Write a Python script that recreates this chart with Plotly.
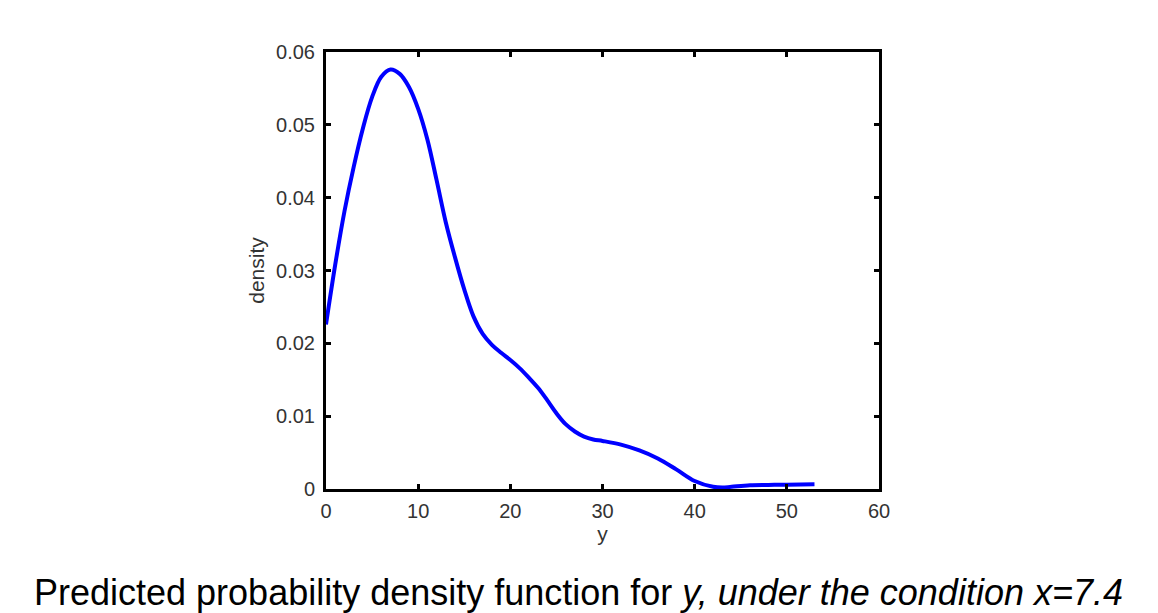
import plotly.graph_objects as go

y_vals = [0, 1, 2, 3, 4, 5, 6, 7, 8, 9, 10, 11, 12, 13, 14, 15, 16, 17, 18, 19, 20,
          21, 22, 23, 24, 25, 26, 27, 28, 29, 30, 32, 34, 36, 38, 40, 42, 43, 44,
          46, 48, 50, 53]
density = [0.0226, 0.0308, 0.0381, 0.0442, 0.0495, 0.0538, 0.0566, 0.0576, 0.0570,
           0.0552, 0.0522, 0.0480, 0.0424, 0.0366, 0.0318, 0.0274, 0.0237, 0.0213,
           0.0198, 0.0187, 0.0177, 0.0166, 0.0153, 0.0139, 0.0122, 0.0104, 0.0089,
           0.0079, 0.0072, 0.0068, 0.0066, 0.0061, 0.0053, 0.0042, 0.0027, 0.0011,
           0.0003, 0.0002, 0.0003, 0.0005, 0.00055, 0.0006, 0.00065]

x_ticks = [0, 10, 20, 30, 40, 50, 60]
y_ticks = [0, 0.01, 0.02, 0.03, 0.04, 0.05, 0.06]
y_tick_labels = ["0", "0.01", "0.02", "0.03", "0.04", "0.05", "0.06"]

fig = go.Figure()
fig.add_trace(go.Scatter(x=y_vals, y=density, mode="lines",
                         line=dict(color="#0000ff", width=4, shape="spline", smoothing=1.0),
                         showlegend=False))

font = dict(family="Liberation Sans, Arial, sans-serif", size=20, color="#333333")

fig.update_layout(
    width=1158, height=613,
    margin=dict(l=318, r=287, t=44, b=132),
    paper_bgcolor="white", plot_bgcolor="white",
    font=font,
    xaxis=dict(range=[0, 60], tickvals=x_ticks, showgrid=False, zeroline=False,
               showline=True, linecolor="black", linewidth=3, mirror="ticks",
               ticks="inside", ticklen=5, tickwidth=3, tickcolor="black",
               ticklabelstandoff=2,
               title=dict(text="y", font=dict(size=21), standoff=4)),
    yaxis=dict(range=[0, 0.06], tickvals=y_ticks, ticktext=y_tick_labels,
               showgrid=False, zeroline=False,
               showline=True, linecolor="black", linewidth=3, mirror="ticks",
               ticks="inside", ticklen=5, tickwidth=3, tickcolor="black",
               ticklabelstandoff=4,
               title=dict(text="density", font=dict(size=21), standoff=6)),
)

fig.add_annotation(text="Predicted probability density function for <i>y, under the condition x=7.4</i>",
                   xref="paper", yref="paper", x=-0.532, y=-0.236,
                   xanchor="left", yanchor="middle", showarrow=False,
                   font=dict(family="Liberation Sans, Arial, sans-serif", size=36, color="black"))

fig.write_html("out.html")
